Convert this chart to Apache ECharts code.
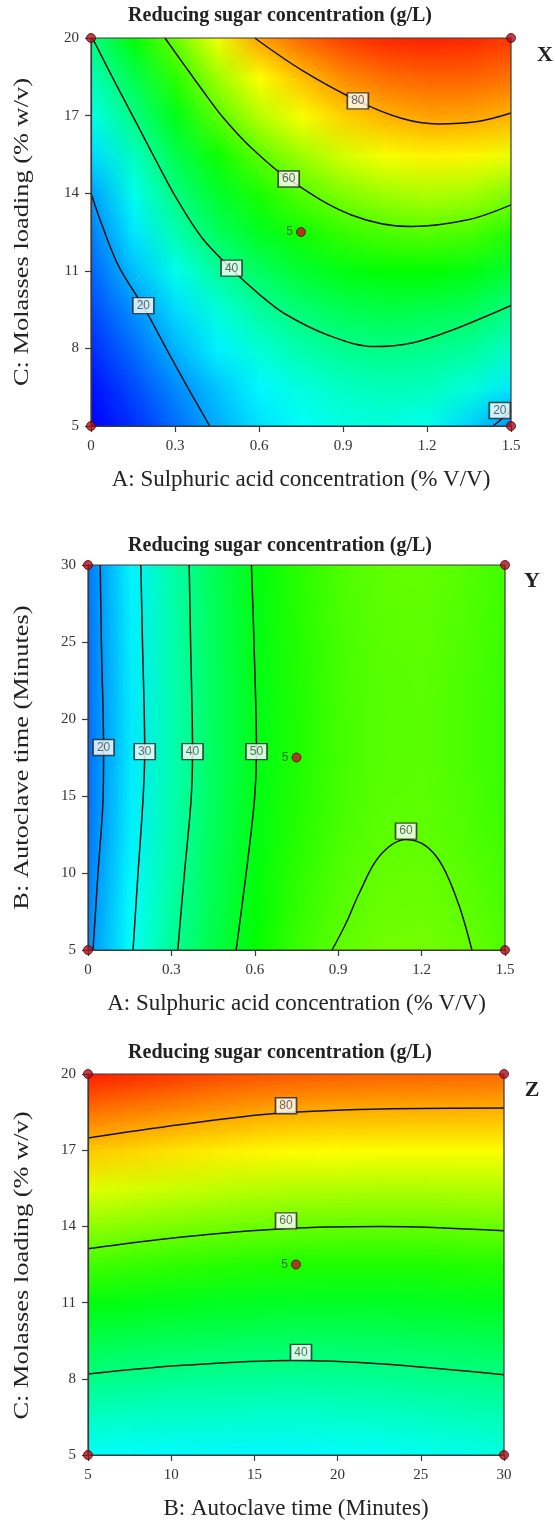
<!DOCTYPE html>
<html><head><meta charset="utf-8">
<script src="https://cdn.jsdelivr.net/npm/echarts@6/dist/echarts.min.js"></script>
<style>html,body{margin:0;padding:0;background:#fff}#c{width:555px;height:1521px}</style>
</head><body><div id="c"></div>
<script>
// ---------------- data ----------------
const titleText = 'Reducing sugar concentration (g/L)';
const panelLetters = ['X', 'Y', 'Z'];
const xNames = ['A: Sulphuric acid concentration (% V/V)', 'A: Sulphuric acid concentration (% V/V)', 'B: Autoclave time (Minutes)'];
const yNames = ['C: Molasses loading (% w/v)', 'B: Autoclave time (Minutes)', 'C: Molasses loading (% w/v)'];

const ticksA = [0, 0.3, 0.6, 0.9, 1.2, 1.5];
const ticksB = [5, 10, 15, 20, 25, 30];
const ticksC = [5, 8, 11, 14, 17, 20];

// Panel X : A (x) vs C (y)
const nodesX_A = [0, 0.15, 0.3, 0.45, 0.6, 0.75, 0.9, 1.05, 1.2, 1.35, 1.5];
const nodesX_C = [5, 6.5, 8, 9.5, 11, 12.5, 14, 15.5, 17, 18.5, 20];
const surfX = [
  [5, 10, 15.5, 21, 25.5, 28.5, 30.5, 31, 29.5, 24, 18],
  [7.5, 12.5, 18, 23, 27.5, 31, 33.5, 34.7, 34.2, 31.5, 26],
  [10, 15.5, 21.5, 27, 32, 35.8, 38.5, 39.7, 38.8, 37.5, 33.5],
  [12.5, 18.5, 25, 31.5, 37, 41.2, 44, 45.3, 44.8, 43.5, 39.6],
  [15, 22.5, 30, 37.3, 43, 47.5, 50.3, 51.7, 52, 50.5, 47],
  [17, 26, 35.5, 43.5, 49, 53.3, 56.3, 58.2, 59, 58, 54.6],
  [20, 30, 40.3, 48, 54, 58.9, 62.5, 65, 66.3, 65.5, 62.5],
  [25, 34, 45, 53, 59.7, 65, 69.5, 72.5, 74, 73.7, 71.5],
  [30.5, 40, 50, 59.4, 67, 72.5, 77, 79.6, 81, 80.7, 79.5],
  [35, 45, 55.5, 65, 73, 78.5, 83, 85.5, 86.5, 86.5, 85],
  [40, 51.5, 61, 72, 81, 86, 89.5, 91.5, 92, 91.5, 90]
];
const contoursX = {
  '20a': [[0, 14.0], [0.04, 12.75], [0.1, 11.15], [0.187, 9.62], [0.276, 7.85], [0.35, 6.4], [0.424, 5.0]],
  '20b': [[1.436, 5], [1.47, 5.3], [1.5, 5.6]],
  '40': [[0.005, 20], [0.09, 18.2], [0.175, 16.45], [0.24, 15.1], [0.30, 13.9], [0.395, 12.3], [0.502, 11.07], [0.6, 10.1], [0.692, 9.34], [0.85, 8.5], [1.013, 8.07], [1.15, 8.22], [1.286, 8.69], [1.5, 9.66]],
  '60': [[0.264, 20], [0.33, 19.0], [0.40, 17.95], [0.47, 16.95], [0.573, 15.75], [0.706, 14.54], [0.93, 13.16], [1.143, 12.71], [1.346, 12.97], [1.5, 13.55]],
  '80': [[0.585, 20], [0.751, 18.77], [0.953, 17.57], [1.108, 16.9], [1.239, 16.68], [1.381, 16.77], [1.5, 17.1]]
};
const labelsX = [[0.187, 9.65, '20'], [0.502, 11.1, '40'], [0.706, 14.55, '60'], [0.953, 17.57, '80'], [1.46, 5.6, '20']];
const pointsX = [[0, 5], [1.5, 5], [0, 20], [1.5, 20]];
const centerX = [[0.75, 12.5]];

// Panel Y : A (x) vs B (y)
const nodesY_A = [0, 0.15, 0.3, 0.45, 0.6, 0.75, 0.9, 1.05, 1.2, 1.35, 1.5];
const nodesY_B = [5, 7.5, 10, 12.5, 15, 17.5, 20, 22.5, 25, 27.5, 30];
const surfY = [
  [18.7, 29.0, 38.0, 45.5, 52.0, 56.7, 59.7, 61.3, 61.6, 60.4, 58.7],
  [17.9, 28.1, 37.2, 44.8, 51.4, 56.1, 59.1, 60.7, 61.0, 59.8, 58.1],
  [17.2, 27.5, 36.6, 44.3, 50.9, 55.6, 58.6, 60.2, 60.5, 59.3, 57.6],
  [16.5, 26.8, 36.0, 43.7, 50.3, 55.0, 58.0, 59.6, 59.9, 58.7, 57.0],
  [16.2, 26.5, 35.7, 43.4, 50.0, 54.7, 57.7, 59.3, 59.6, 58.4, 56.7],
  [16.0, 26.3, 35.5, 43.2, 49.8, 54.5, 57.5, 59.1, 59.4, 58.2, 56.5],
  [16.0, 26.3, 35.5, 43.2, 49.8, 54.5, 57.5, 59.1, 59.4, 58.2, 56.5],
  [16.1, 26.4, 35.6, 43.3, 49.9, 54.6, 57.6, 59.2, 59.5, 58.3, 56.6],
  [16.3, 26.6, 35.8, 43.5, 50.1, 54.8, 57.8, 59.4, 59.7, 58.5, 56.8],
  [16.5, 26.8, 36.0, 43.7, 50.3, 55.0, 58.0, 59.6, 59.9, 58.7, 57.0],
  [16.8, 27.1, 36.3, 44.0, 50.6, 55.3, 58.3, 59.9, 60.2, 59.0, 57.3]
];
const contoursY = {
  '20': [[0.044, 30], [0.048, 25], [0.056, 17.9], [0.054, 14.8], [0.036, 10], [0.018, 5]],
  '30': [[0.19, 30], [0.196, 25], [0.204, 17.9], [0.198, 14.8], [0.18, 10], [0.162, 5]],
  '40': [[0.364, 30], [0.369, 25], [0.376, 17.9], [0.371, 14.8], [0.347, 10], [0.323, 5]],
  '50': [[0.588, 30], [0.597, 25], [0.606, 17.9], [0.599, 14.8], [0.569, 10], [0.533, 5]],
  '60': [[0.878, 5], [0.928, 6.74], [0.976, 8.7], [1.048, 11.09], [1.144, 12.17], [1.216, 11.74], [1.276, 10.43], [1.336, 7.83], [1.381, 5]]
};
const labelsY = [[0.056, 18.15, '20'], [0.204, 17.88, '30'], [0.376, 17.88, '40'], [0.606, 17.88, '50'], [1.144, 12.72, '60']];
const pointsY = [[0, 5], [1.5, 5], [0, 30], [1.5, 30]];
const centerY = [[0.75, 17.5]];

// Panel Z : B (x) vs C (y)
const nodesZ_B = [5, 7.5, 10, 12.5, 15, 17.5, 20, 22.5, 25, 27.5, 30];
const nodesZ_C = [5, 6.5, 8, 9.5, 11, 12.5, 14, 15.5, 17, 18.5, 20];
const surfZ = [
  [28.4, 28.0, 27.7, 27.6, 27.5, 27.5, 28.0, 28.6, 29.2, 29.8, 30.6],
  [33.6, 33.2, 32.8, 32.6, 32.4, 32.3, 32.6, 33.1, 33.6, 34.2, 34.9],
  [39.3, 38.7, 38.2, 37.9, 37.6, 37.5, 37.7, 38.1, 38.5, 39.0, 39.7],
  [45.0, 44.3, 43.8, 43.3, 43.0, 42.8, 42.9, 43.1, 43.5, 43.9, 44.5],
  [51.0, 50.3, 49.6, 49.1, 48.7, 48.4, 48.4, 48.5, 48.8, 49.2, 49.6],
  [57.3, 56.4, 55.7, 55.1, 54.6, 54.3, 54.2, 54.2, 54.3, 54.6, 55.0],
  [63.7, 62.8, 62.0, 61.3, 60.7, 60.3, 60.1, 60.0, 60.1, 60.3, 60.6],
  [70.5, 69.5, 68.6, 67.7, 67.1, 66.6, 66.4, 66.2, 66.2, 66.4, 66.5],
  [77.5, 76.5, 75.5, 74.5, 73.7, 73.2, 72.9, 72.7, 72.7, 72.7, 72.7],
  [84.8, 83.6, 82.6, 81.5, 80.6, 80.0, 79.6, 79.5, 79.4, 79.3, 79.2],
  [92.2, 91.0, 89.9, 88.6, 87.7, 87.0, 86.6, 86.4, 86.2, 86.0, 85.8]
];
const contoursZ = {
  '40': [[5, 8.19], [10.5, 8.52], [17.3, 8.72], [22.5, 8.59], [30, 8.16]],
  '60': [[5, 13.12], [10.5, 13.57], [16.9, 13.92], [22.6, 14.0], [30, 13.83]],
  '80': [[5, 17.48], [10.5, 18.0], [16.5, 18.46], [22.6, 18.62], [30, 18.66]]
};
const labelsZ = [[16.9, 18.75, '80'], [16.9, 14.22, '60'], [17.8, 9.04, '40']];
const pointsZ = [[5, 5], [30, 5], [5, 20], [30, 20]];
const centerZ = [[17.5, 12.5]];
const centerLabel = '5';

// ---------------- styling / layout ----------------
const colorStops = [[6, [0, 0, 255]], [28, [0, 255, 255]], [52, [0, 255, 0]], [73, [255, 255, 0]], [95, [255, 0, 0]]];
function cmap(v) {
  if (v <= colorStops[0][0]) return colorStops[0][1];
  for (let i = 1; i < colorStops.length; i++) {
    if (v <= colorStops[i][0]) {
      const a = colorStops[i - 1], b = colorStops[i];
      const t = (v - a[0]) / (b[0] - a[0]);
      return a[1].map((c, k) => Math.round(c + (b[1][k] - c) * t));
    }
  }
  return colorStops[colorStops.length - 1][1];
}
function surfaceCanvas(z) {
  const h = z.length, w = z[0].length;
  const c = document.createElement('canvas');
  c.width = w; c.height = h;
  const ctx = c.getContext('2d');
  const img = ctx.createImageData(w, h);
  for (let j = 0; j < h; j++) {
    for (let i = 0; i < w; i++) {
      const col = cmap(z[j][i]);
      const p = ((h - 1 - j) * w + i) * 4;
      img.data[p] = col[0]; img.data[p + 1] = col[1]; img.data[p + 2] = col[2]; img.data[p + 3] = 255;
    }
  }
  ctx.putImageData(img, 0, 0);
  return c;
}

const grids = [
  { left: 91, top: 38, width: 420, height: 388 },
  { left: 88, top: 565, width: 417, height: 385 },
  { left: 88, top: 1074, width: 416, height: 383 }
];
const titleY = [16, 546, 1053];
const letterPos = [[545, 55], [532, 581], [532, 1090]];
const yNameX = 23;
const panels = [
  { xs: nodesX_A, ys: nodesX_C, z: surfX, contours: contoursX, labels: labelsX, pts: pointsX, center: centerX,
    xr: [0, 1.5], yr: [5, 20], xt: ticksA, yt: ticksC },
  { xs: nodesY_A, ys: nodesY_B, z: surfY, contours: contoursY, labels: labelsY, pts: pointsY, center: centerY,
    xr: [0, 1.5], yr: [5, 30], xt: ticksA, yt: ticksB },
  { xs: nodesZ_B, ys: nodesZ_C, z: surfZ, contours: contoursZ, labels: labelsZ, pts: pointsZ, center: centerZ,
    xr: [5, 30], yr: [5, 20], xt: ticksB, yt: ticksC }
];

const serif = '"Liberation Serif", "DejaVu Serif", serif';
const sans = '"Liberation Sans", Arial, sans-serif';

const option = {
  animation: false,
  backgroundColor: '#fff',
  grid: grids.map(g => Object.assign({ show: true, z: 5, borderColor: '#3a3a3a', borderWidth: 1.2, backgroundColor: 'transparent' }, g)),
  xAxis: panels.map((p, i) => ({
    gridIndex: i, type: 'value', min: p.xr[0], max: p.xr[1], z: 5,
    name: xNames[i], nameLocation: 'middle', nameGap: 42,
    nameTextStyle: { fontFamily: serif, fontSize: 23, color: '#222' },
    axisLine: { lineStyle: { color: '#3a3a3a', width: 1.2 } },
    axisTick: { customValues: p.xt, length: 6, lineStyle: { color: '#3a3a3a', width: 1.2 } },
    axisLabel: { customValues: p.xt, fontFamily: serif, fontSize: 15, color: '#333', margin: 13 },
    splitLine: { show: false }
  })),
  yAxis: panels.map((p, i) => ({
    gridIndex: i, type: 'value', min: p.yr[0], max: p.yr[1], z: 5,
    axisLine: { lineStyle: { color: '#3a3a3a', width: 1.2 } },
    axisTick: { customValues: p.yt, length: 6, lineStyle: { color: '#3a3a3a', width: 1.2 } },
    axisLabel: { customValues: p.yt, fontFamily: serif, fontSize: 15, color: '#333', margin: 12 },
    splitLine: { show: false }
  })),
  graphic: [],
  series: []
};

panels.forEach((p, i) => {
  const g = grids[i];
  option.graphic.push({
    type: 'text', x: 280, y: titleY[i], z: 20,
    style: { text: titleText, font: 'bold 20px ' + serif, fill: '#222', align: 'center', verticalAlign: 'middle' }
  });
  option.graphic.push({
    type: 'text', x: letterPos[i][0], y: letterPos[i][1], z: 20,
    style: { text: panelLetters[i], font: 'bold 22px ' + serif, fill: '#222', align: 'center', verticalAlign: 'middle' }
  });
  // y-axis title (stretched along its length like the reference)
  option.graphic.push({
    type: 'text', x: yNameX, y: g.top + g.height / 2, rotation: Math.PI / 2, scaleX: 1.32, z: 20,
    style: { text: yNames[i], font: '20px ' + serif, fill: '#222', align: 'center', verticalAlign: 'middle' }
  });
  const canvas = surfaceCanvas(p.z);
  const xs = p.xs, ys = p.ys;
  option.series.push({
    type: 'custom', xAxisIndex: i, yAxisIndex: i, z: 1, silent: true,
    data: [[xs[0], ys[0], xs[xs.length - 1], ys[ys.length - 1]]],
    renderItem: function (params, api) {
      const dx = (xs[1] - xs[0]) / 2, dy = (ys[1] - ys[0]) / 2;
      const p0 = api.coord([api.value(0) - dx, api.value(3) + dy]);
      const p1 = api.coord([api.value(2) + dx, api.value(1) - dy]);
      const cs = params.coordSys;
      return {
        type: 'image',
        style: { image: canvas, x: p0[0], y: p0[1], width: p1[0] - p0[0], height: p1[1] - p0[1] },
        clipPath: { type: 'rect', shape: { x: cs.x, y: cs.y, width: cs.width, height: cs.height } }
      };
    }
  });
  Object.keys(p.contours).forEach(k => {
    option.series.push({
      type: 'line', xAxisIndex: i, yAxisIndex: i, z: 3, silent: true,
      data: p.contours[k], showSymbol: false, smooth: 0.35,
      lineStyle: { color: '#111', width: 1.5 }
    });
  });
  option.series.push({
    type: 'scatter', xAxisIndex: i, yAxisIndex: i, z: 8, silent: true, clip: false,
    data: p.labels, symbol: 'rect', symbolSize: [21, 16],
    itemStyle: { color: '#fff', borderColor: '#222', borderWidth: 1.5 },
    label: { show: true, position: 'inside', formatter: q => q.value[2], fontFamily: sans, fontSize: 12, color: '#444' }
  });
  option.series.push({
    type: 'scatter', xAxisIndex: i, yAxisIndex: i, z: 9, silent: true, clip: false,
    data: p.pts, symbol: 'circle', symbolSize: 9,
    itemStyle: { color: '#a8101a', borderColor: '#5a0008', borderWidth: 1 }
  });
  option.series.push({
    type: 'scatter', xAxisIndex: i, yAxisIndex: i, z: 9, silent: true, clip: false,
    data: p.center, symbol: 'circle', symbolSize: 9,
    itemStyle: { color: '#c8101a', borderColor: '#5a0008', borderWidth: 1 },
    label: { show: true, position: 'left', distance: 3, formatter: centerLabel, fontFamily: sans, fontSize: 12, color: '#2a4a2a' }
  });
});

const chart = echarts.init(document.getElementById('c'), null, { renderer: 'canvas' });
chart.setOption(option);
</script>
</body></html>
